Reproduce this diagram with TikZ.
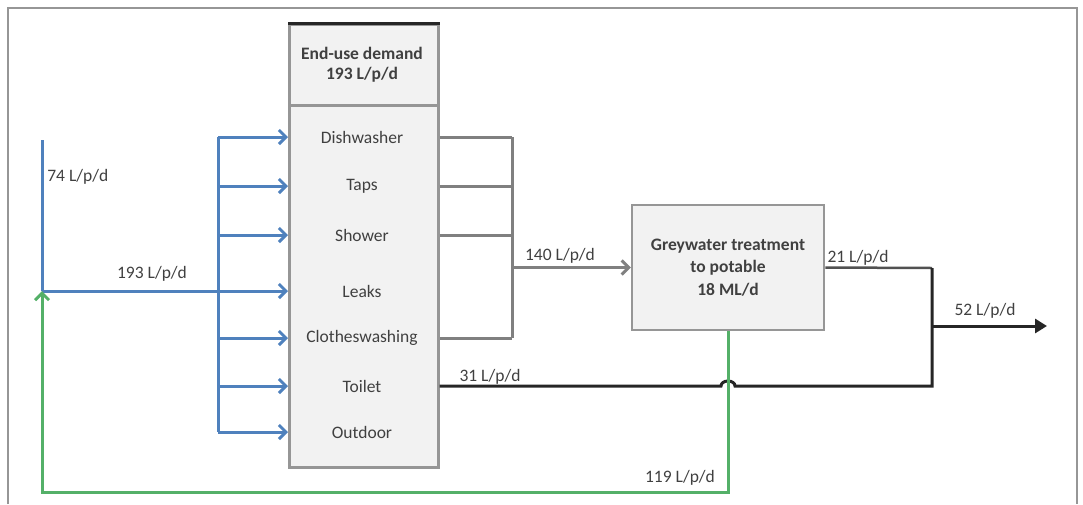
\documentclass[tikz,border=0pt]{standalone}
\usepackage{fontspec}
\setmainfont{Carlito}
\usetikzlibrary{arrows.meta,positioning,calc}
\definecolor{flowblue}{RGB}{79,129,189}
\definecolor{flowgreen}{RGB}{84,176,104}
\definecolor{flowgrey}{RGB}{128,128,128}
\definecolor{flowdark}{RGB}{38,38,38}
\definecolor{boxfill}{RGB}{242,242,242}
\definecolor{boxline}{RGB}{150,150,150}
\definecolor{txt}{RGB}{64,64,64}
\tikzset{every picture/.style={line width=0.75pt}}

\begin{document}
\begin{tikzpicture}[x=1pt,y=-1pt,
    font=\fontsize{17.5}{21}\selectfont, text=txt,
    box/.style={draw=boxline, fill=boxfill, line width=2.5pt, inner sep=0pt},
    item/.style={inner sep=0pt},
    lbl/.style={inner sep=0pt},
    blueline/.style={draw=flowblue, line width=3pt},
    bluearrow/.style={blueline, -{Straight Barb[length=7pt,width=14pt,line width=3pt]}},
    greyline/.style={draw=flowgrey, line width=3pt},
    greyarrow/.style={greyline, -{Straight Barb[length=7pt,width=14pt,line width=3pt]}},
    darkline/.style={draw=flowdark, line width=3pt},
    darkarrow/.style={darkline, -{Triangle[length=12pt,width=14pt]}},
    greenline/.style={draw=flowgreen, line width=3pt},
    greenarrow/.style={greenline, -{Straight Barb[length=7pt,width=14pt,line width=3pt]}}]
    \useasboundingbox (0,0) rectangle (1083,504);

    % Frame
    \draw[boxline, line width=1.2pt] (8,504) -- (8,8) -- (1077,8) -- (1077,504);

    % End-use demand box
    \node[box, minimum width=149, minimum height=81, anchor=north west] (head) at (288,23) {};
    \node[box, minimum width=149, minimum height=362, anchor=north west] (body) at (288,104) {};
    \draw[flowdark, line width=3pt] (head.north west) -- (head.north east);
    \node[align=center, font=\fontsize{17.5}{20}\selectfont\bfseries, inner sep=0pt] (headtxt) at (362,65) {End-use demand\\193 L/p/d};

    % End uses
    \node[item] (dish) at (362,137) {Dishwasher};
    \node[item] (taps) at (362,186) {Taps};
    \node[item] (shower) at (362,235) {Shower};
    \node[item] (leaks) at (362,291) {Leaks};
    \node[item] (clothes) at (362,338) {Clotheswashing};
    \node[item] (toilet) at (362,386) {Toilet};
    \node[item] (outdoor) at (362,432) {Outdoor};

    % Treatment box
    \node[box, minimum width=192, minimum height=125, align=center,
          font=\fontsize{17.5}{22.5}\selectfont\bfseries] (gw) at (728,267.5)
          {Greywater treatment\\to potable\\18 ML/d};

    % Supply (blue)
    \coordinate (src) at (42,140);
    \coordinate (split) at (42,291);
    \coordinate (bustop) at (218,137);
    \coordinate (busbot) at (218,432);
    \draw[blueline] (src) -- (split);
    \draw[blueline] (bustop) -- (busbot);
    \draw[bluearrow] (split) -- (body.west |- leaks);
    \foreach \n in {dish,taps,shower,clothes,toilet,outdoor}
        \draw[bluearrow] (bustop |- \n) -- (body.west |- \n);
    \node[lbl, anchor=west] (mains) at (47,177) {74 L/p/d};
    \node[lbl] (total) at (152,274) {193 L/p/d};

    % Greywater collection
    \coordinate (ctop) at (512,137);
    \coordinate (cbot) at (512,338);
    \foreach \n in {dish,taps,shower,clothes}
        \draw[greyline] (body.east |- \n) -- (ctop |- \n);
    \draw[greyline] (ctop) -- (cbot);
    \draw[greyarrow] (ctop |- gw.west) -- (gw.west);
    \node[lbl] (grey) at (560,256) {140 L/p/d};

    % Discharge (black)
    \coordinate (join) at (932,268);
    \draw[darkline, draw=flowdark!80, line width=2.5pt] (gw.east) -- (join);
    \draw[darkline] (body.east |- toilet) -- ($(gw.south |- toilet)+(-7,0)$)
        arc (180:360:7 and 5) -- (join |- toilet) -- (join);
    \coordinate (out) at (1047,326);
    \draw[darkarrow] (join |- out) -- (out);
    \node[lbl] (brine) at (858,258) {21 L/p/d};
    \node[lbl] (wc) at (490,377) {31 L/p/d};
    \node[lbl] (sewer) at (985,311) {52 L/p/d};

    % Recycled water (green)
    \coordinate (gbot) at (42,492);
    \draw[greenarrow] (gw.south) |- (gbot) -- (split);
    \node[lbl] (recyc) at (680,478) {119 L/p/d};
\end{tikzpicture}
\end{document}
